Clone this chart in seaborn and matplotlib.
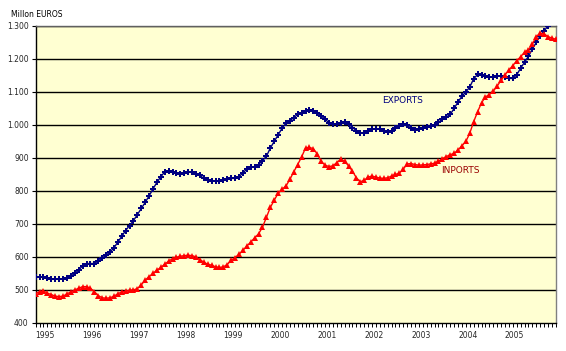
import numpy as np
import pandas as pd
import matplotlib
matplotlib.use("Agg")
import matplotlib.pyplot as plt
from matplotlib.ticker import FixedLocator, MultipleLocator, FuncFormatter
import seaborn as sns

# ---- data (monthly, Jan 1995 .. Feb 2006), million euros ----
exports = [
    540, 540, 538, 535, 533, 533, 533, 533, 535, 542, 550, 560, 573, 580, 580, 580, 588, 597, 605, 615, 627, 645, 662,
    680, 695, 710, 728, 747, 765, 785, 806, 826, 843, 858, 860, 856, 853, 852, 855, 857, 856, 852, 847, 838, 832, 830,
    830, 830, 832, 836, 838, 838, 843, 855, 866, 872, 873, 880, 892, 905, 930, 950, 970, 990, 1005, 1013, 1022, 1032, 1037,
    1041, 1044, 1043, 1035, 1028, 1017, 1007, 1003, 1002, 1006, 1008, 1003, 992, 983, 976, 976, 982, 987, 988, 988, 982, 978, 983,
    990, 997, 1003, 999, 990, 985, 989, 992, 995, 997, 1000, 1008, 1018, 1024, 1032, 1050, 1070, 1087, 1100,
    1115, 1140, 1153, 1152, 1149, 1146, 1145, 1148, 1149, 1145, 1141, 1141, 1152, 1172, 1190, 1208, 1230, 1250, 1270, 1285, 1300, 1318, 1330,
]
imports = [
    488, 495, 497, 490, 486, 481, 480, 481, 488, 494, 500, 505, 510, 510, 505, 495, 483, 476, 475, 476, 481, 488, 494,
    496, 499, 500, 504, 515, 530, 540, 550, 560, 568, 578, 587, 595, 599, 602, 604, 605, 604, 600, 592, 584, 578,
    575, 570, 568, 570, 577, 590, 598, 608, 620, 633, 645, 658, 670, 690, 720, 750, 772, 793, 805, 815, 835, 858, 880, 903,
    930, 932, 928, 912, 890, 878, 874, 876, 886, 896, 890, 876, 860, 840, 828, 832, 842, 845, 842, 839, 838, 840, 845,
    850, 854, 866, 882, 883, 880, 878, 879, 880, 882, 884, 890, 898, 904, 910, 914, 924, 937, 950,
    975, 1010, 1040, 1067, 1085, 1092, 1102, 1118, 1135, 1152, 1166, 1180, 1194, 1207, 1220, 1228, 1245, 1268, 1278, 1276, 1268, 1263, 1260,
]
years = ["1995", "1996", "1997", "1998", "1999", "2000", "2001", "2002", "2003", "2004", "2005"]
y_ticks = [400, 500, 600, 700, 800, 900, 1000, 1100, 1200, 1300]
unit_label = "Millon EUROS"
series_labels = ["EXPORTS", "INPORTS"]

n = len(exports)
month_idx = np.arange(n)
df = pd.DataFrame({"m": month_idx, "exports": exports, "imports": imports})

sns.set_style("white")
plt.rcParams["font.family"] = ["DejaVu Sans"]

fig = plt.figure(figsize=(5.66, 3.51), dpi=100)
fig.patch.set_facecolor("white")
ax = fig.add_axes([0.063, 0.080, 0.919, 0.846])
ax.set_facecolor("#FFFFD2")

# gridlines
for v in y_ticks[1:]:
    ax.axhline(v, color="black", lw=1.0, zorder=1)

sns.lineplot(data=df, x="m", y="exports", color="#000080", marker="P",
             markersize=5, markeredgewidth=0, linewidth=1.0, ax=ax, zorder=3)
sns.lineplot(data=df, x="m", y="imports", color="#FF0000", marker="^",
             markersize=5, markeredgewidth=0, linewidth=1.0, ax=ax, zorder=3)

ax.set_xlim(0, n - 1)
ax.set_ylim(400, 1300)
ax.set_xlabel("")
ax.set_ylabel("")

# y axis
ax.yaxis.set_major_locator(FixedLocator(y_ticks))
ax.yaxis.set_major_formatter(FuncFormatter(lambda v, p: f"{int(v):,}".replace(",", ".")))
ax.tick_params(axis="y", direction="out", length=3, width=0.8, color="black",
               labelsize=5.5, pad=2, left=True)

# x axis: monthly ticks, year labels
ax.xaxis.set_major_locator(FixedLocator([12 * i for i in range(len(years))]))
ax.set_xticklabels(years)
for lab in ax.get_xticklabels():
    lab.set_horizontalalignment("left")
ax.xaxis.set_minor_locator(MultipleLocator(1))
ax.tick_params(axis="x", which="both", direction="out", length=3, width=0.7,
               color="black", labelsize=5.5, pad=3, bottom=True)

for side in ["left", "bottom"]:
    ax.spines[side].set_color("black")
    ax.spines[side].set_linewidth(1.0)
ax.spines["right"].set_color("#808080")
ax.spines["right"].set_linewidth(1.0)
ax.spines["top"].set_color("#606060")
ax.spines["top"].set_linewidth(1.0)
ax.spines["right"].set_visible(True)
ax.spines["top"].set_visible(True)

fig.text(0.019, 0.960, unit_label, fontsize=5.5, color="black", ha="left", va="center")

ax.text(88.7, 1074, series_labels[0], color="#000080", fontsize=6.5, ha="left", va="center")
ax.text(103.8, 861, series_labels[1], color="#990000", fontsize=6.5, ha="left", va="center")

fig.savefig("out.png", dpi=100, facecolor=fig.get_facecolor())
